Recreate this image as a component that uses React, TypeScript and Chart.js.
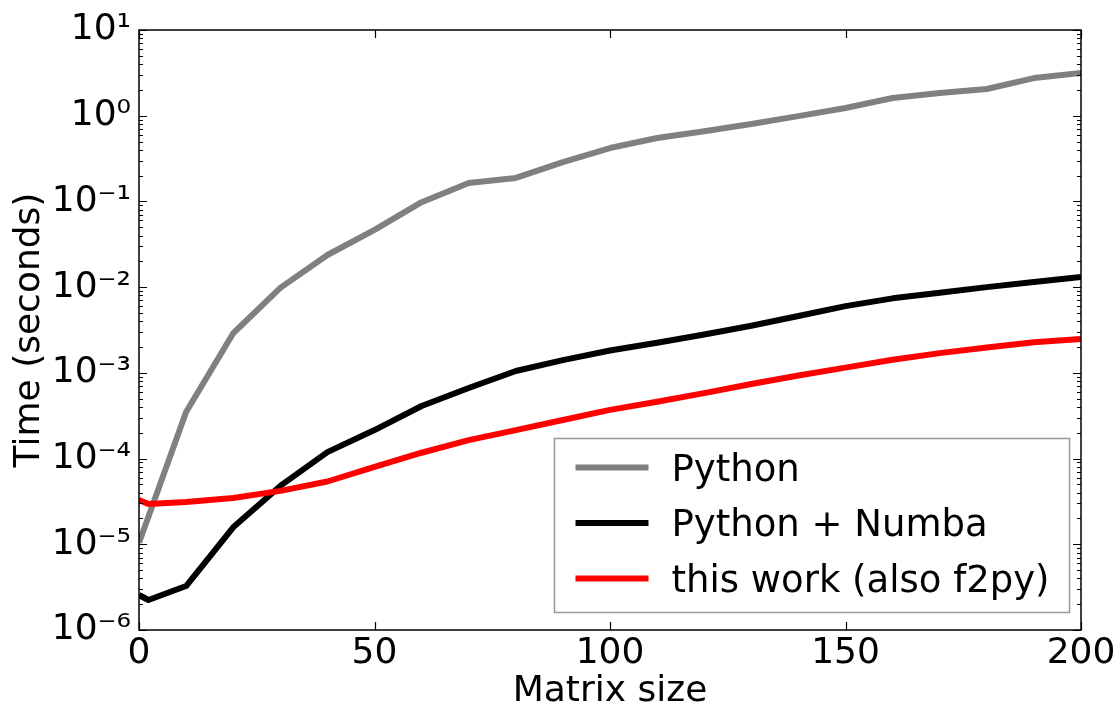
import React, { useEffect, useRef } from 'react';
import { Chart, registerables } from 'chart.js';

Chart.register(...registerables);

// ---- data ----
const sizes = [0, 2, 10, 20, 30, 40, 50, 60, 70, 80, 90, 100, 110, 120, 130, 140, 150, 160, 170, 180, 190, 200];
const pythonTimes = [1.04e-5, 2.1e-5, 3.5e-4, 2.9e-3, 9.8e-3, 2.37e-2, 4.65e-2, 9.8e-2, 0.164, 0.188, 0.288, 0.42, 0.55, 0.66, 0.8, 0.99, 1.23, 1.61, 1.84, 2.05, 2.75, 3.15];
const numbaTimes = [2.56e-6, 2.24e-6, 3.26e-6, 1.58e-5, 4.8e-5, 1.19e-4, 2.15e-4, 4.1e-4, 6.65e-4, 1.05e-3, 1.41e-3, 1.82e-3, 2.25e-3, 2.8e-3, 3.55e-3, 4.6e-3, 6.0e-3, 7.4e-3, 8.6e-3, 1.0e-2, 1.15e-2, 1.31e-2];
const thisWorkTimes = [3.28e-5, 2.95e-5, 3.11e-5, 3.47e-5, 4.2e-5, 5.4e-5, 8.0e-5, 1.17e-4, 1.64e-4, 2.15e-4, 2.82e-4, 3.7e-4, 4.6e-4, 5.8e-4, 7.4e-4, 9.3e-4, 1.15e-3, 1.42e-3, 1.7e-3, 1.98e-3, 2.27e-3, 2.48e-3];
const seriesLabels = ['Python', 'Python + Numba', 'this work (also f2py)'];
const seriesColors = ['#808080', '#000000', '#ff0000'];
const xTickValues = [0, 50, 100, 150, 200];
const yTickExponents = [-6, -5, -4, -3, -2, -1, 0, 1];
const xAxisTitle = 'Matrix size';
const yAxisTitle = 'Time (seconds)';

const FONT = '"DejaVu Sans", "Bitstream Vera Sans", sans-serif';
const SUP: Record<string, string> = {
  '-': '\u207B', '0': '\u2070', '1': '\u00B9', '2': '\u00B2', '3': '\u00B3',
  '4': '\u2074', '5': '\u2075', '6': '\u2076', '7': '\u2077', '8': '\u2078', '9': '\u2079',
};
const powLabel = (e: number) => '10' + String(e).split('').map((c) => SUP[c] || c).join('');

const framePlugin = {
  id: 'mplFrame',
  afterDatasetsDraw(chart: any) {
    const { ctx, chartArea } = chart;
    const { left, right, top, bottom } = chartArea;
    const xs = chart.scales.x;
    const ys = chart.scales.y;
    ctx.save();
    ctx.strokeStyle = '#000';
    ctx.lineWidth = 1.5;
    ctx.strokeRect(left, top, right - left, bottom - top);
    ctx.lineWidth = 1.2;
    ctx.beginPath();
    for (const v of xTickValues) {
      const px = Math.round(xs.getPixelForValue(v)) + 0.5;
      ctx.moveTo(px, bottom);
      ctx.lineTo(px, bottom - 8);
      ctx.moveTo(px, top);
      ctx.lineTo(px, top + 8);
    }
    const maxE = yTickExponents[yTickExponents.length - 1];
    for (const e of yTickExponents) {
      for (let m = 1; m < 10; m++) {
        if (e === maxE && m > 1) break;
        const py = Math.round(ys.getPixelForValue(m * Math.pow(10, e))) + 0.5;
        const len = m === 1 ? 8 : 4;
        ctx.moveTo(left, py);
        ctx.lineTo(left + len, py);
        ctx.moveTo(right, py);
        ctx.lineTo(right - len, py);
      }
    }
    ctx.stroke();
    ctx.restore();
  },
};

const legendPlugin = {
  id: 'mplLegend',
  afterDraw(chart: any) {
    const { ctx, chartArea } = chart;
    const bw = 515;
    const bh = 174;
    const bx = Math.round(chartArea.right - 12 - bw) + 0.5;
    const by = Math.round(chartArea.bottom - 18 - bh) + 0.5;
    ctx.save();
    ctx.fillStyle = '#fff';
    ctx.fillRect(bx, by, bw, bh);
    ctx.strokeStyle = '#999';
    ctx.lineWidth = 1.5;
    ctx.strokeRect(bx, by, bw, bh);
    ctx.font = '37px ' + FONT;
    ctx.textBaseline = 'alphabetic';
    ctx.textAlign = 'left';
    chart.data.datasets.forEach((ds: any, i: number) => {
      const rowY = by + 29 + i * 55.5;
      ctx.strokeStyle = ds.borderColor;
      ctx.lineWidth = 6;
      ctx.lineCap = 'butt';
      ctx.beginPath();
      ctx.moveTo(bx + 21, rowY);
      ctx.lineTo(bx + 94, rowY);
      ctx.stroke();
      ctx.fillStyle = '#000';
      ctx.fillText(ds.label, bx + 117, rowY + 13);
    });
    ctx.restore();
  },
};

export default function App() {
  const canvasRef = useRef<HTMLCanvasElement | null>(null);

  useEffect(() => {
    if (!canvasRef.current) return;
    const series = [pythonTimes, numbaTimes, thisWorkTimes];
    const chart = new Chart(canvasRef.current, {
      type: 'line',
      data: {
        datasets: series.map((vals, i) => ({
          label: seriesLabels[i],
          data: sizes.map((s, j) => ({ x: s, y: vals[j] })),
          borderColor: seriesColors[i],
          backgroundColor: seriesColors[i],
          borderWidth: 6,
          pointRadius: 0,
          pointHoverRadius: 0,
          tension: 0,
          fill: false,
          borderJoinStyle: 'round',
          order: 2 - i,
        })),
      },
      options: {
        responsive: false,
        animation: false,
        devicePixelRatio: 1,
        layout: { padding: { left: 0, top: 30, right: 38, bottom: 0 } },
        plugins: {
          legend: { display: false },
          tooltip: { enabled: false },
        },
        scales: {
          x: {
            type: 'linear',
            min: 0,
            max: 200,
            grid: { display: false, drawTicks: false },
            border: { display: false },
            afterBuildTicks: (s: any) => {
              s.ticks = xTickValues.map((v) => ({ value: v }));
            },
            afterFit: (s: any) => {
              s.height = 83;
            },
            ticks: {
              autoSkip: false,
              maxRotation: 0,
              padding: 2,
              color: '#000',
              font: { family: FONT, size: 36 },
            },
            title: {
              display: true,
              text: xAxisTitle,
              color: '#000',
              font: { family: FONT, size: 36 },
              padding: { top: 0, bottom: 0 },
            },
          },
          y: {
            type: 'logarithmic',
            min: Math.pow(10, yTickExponents[0]),
            max: Math.pow(10, yTickExponents[yTickExponents.length - 1]),
            grid: { display: false, drawTicks: false },
            border: { display: false },
            afterBuildTicks: (s: any) => {
              s.ticks = yTickExponents.map((e) => ({ value: Math.pow(10, e), major: true }));
            },
            afterFit: (s: any) => {
              s.width = 139;
            },
            ticks: {
              autoSkip: false,
              padding: 8,
              color: '#000',
              font: { family: FONT, size: 36 },
              callback: (v: any) => powLabel(Math.round(Math.log10(Number(v)))),
            },
            title: {
              display: true,
              text: yAxisTitle,
              color: '#000',
              font: { family: FONT, size: 36 },
              padding: { top: 8, bottom: 0 },
            },
          },
        },
      } as any,
      plugins: [framePlugin, legendPlugin],
    });
    return () => chart.destroy();
  }, []);

  return (
    <div style={{ position: 'absolute', left: 0, top: 0, width: 1119, height: 713, background: '#fff' }}>
      <canvas ref={canvasRef} width={1119} height={713} style={{ display: 'block' }} />
    </div>
  );
}
